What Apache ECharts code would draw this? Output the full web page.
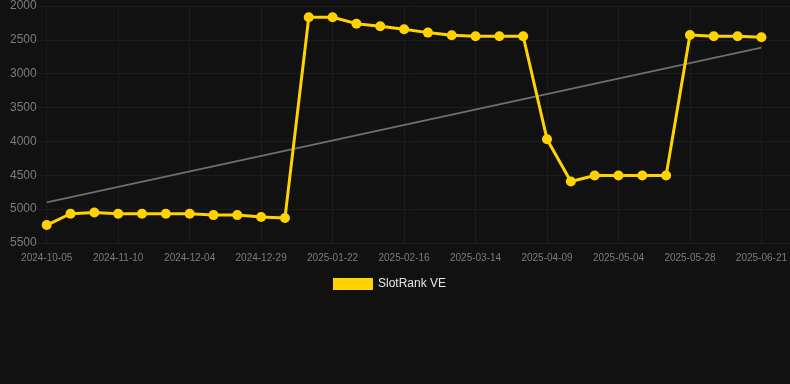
<!DOCTYPE html>
<html>
<head>
<meta charset="utf-8">
<script src="https://cdn.jsdelivr.net/npm/echarts@6/dist/echarts.min.js"></script>
<style>
html, body { margin: 0; padding: 0; background: #111111; }
#ct1 { width: 790px; height: 384px; }
</style>
</head>
<body>
<div id="ct1"></div>
<script>
var dates = ['2024-10-05', '2024-10-17', '2024-10-29', '2024-11-10', '2024-11-18', '2024-11-26',
	'2024-12-04', '2024-12-12', '2024-12-20', '2024-12-29', '2025-01-06', '2025-01-14',
	'2025-01-22', '2025-01-30', '2025-02-07', '2025-02-16', '2025-02-24', '2025-03-05',
	'2025-03-14', '2025-03-22', '2025-03-31', '2025-04-09', '2025-04-17', '2025-04-26',
	'2025-05-04', '2025-05-12', '2025-05-20', '2025-05-28', '2025-06-05', '2025-06-13',
	'2025-06-21'];
var ranks = [5235, 5068, 5050, 5068, 5068, 5068, 5068, 5088, 5088, 5117, 5132,
	2167, 2167, 2261, 2300, 2344, 2393, 2433, 2447, 2447, 2447,
	3967, 4591, 4503, 4503, 4503, 4503,
	2428, 2447, 2447, 2462];
var trendEnds = [4900, 2615];
var yTicks = { min: 2000, max: 5500, step: 500 };

var trend = [];
for (var i = 0; i < dates.length; i++) {
	trend.push(null);
}
trend[0] = trendEnds[0];
trend[dates.length - 1] = trendEnds[1];

var gridColor = '#1c1c1c';
var labelColor = '#7c7c7c';

var option1 = {
	backgroundColor: '#111111',
	animation: false,
	grid: [
		{ left: 46.7, right: 28.3, top: 6, bottom: 141 },
		{ left: 37, right: 0, top: 6, bottom: 141 }
	],
	legend: {
		data: [{ name: 'SlotRank VE', icon: 'rect' }],
		top: 273,
		left: 328,
		itemWidth: 40,
		itemHeight: 12,
		itemGap: 10,
		textStyle: { color: '#e6e6e6', fontSize: 12 }
	},
	xAxis: [{
		type: 'category',
		gridIndex: 0,
		data: dates,
		boundaryGap: false,
		axisLine: { show: false },
		axisTick: { show: false },
		axisLabel: { interval: 2, color: labelColor, fontSize: 10, margin: 10 },
		splitLine: { show: true, interval: 2, lineStyle: { color: gridColor } }
	}, {
		type: 'value',
		gridIndex: 1,
		show: false,
		min: 0,
		max: 1
	}],
	yAxis: [{
		type: 'value',
		gridIndex: 0,
		inverse: true,
		min: yTicks.min,
		max: yTicks.max,
		interval: yTicks.step,
		axisLine: { show: false },
		axisTick: { show: false },
		axisLabel: {
			color: labelColor,
			fontSize: 12,
			margin: 10,
			formatter: function (v) { return String(v); }
		},
		splitLine: { show: false }
	}, {
		type: 'value',
		gridIndex: 1,
		inverse: true,
		min: yTicks.min,
		max: yTicks.max,
		interval: yTicks.step,
		axisLine: { show: false },
		axisTick: { show: false },
		axisLabel: { show: false },
		splitLine: { show: true, lineStyle: { color: gridColor } }
	}],
	series: [{
		name: 'Trend',
		type: 'line',
		xAxisIndex: 0,
		yAxisIndex: 0,
		data: trend,
		connectNulls: true,
		symbol: 'none',
		lineStyle: { color: '#6e6e6e', width: 2 },
		z: 1
	}, {
		name: 'SlotRank VE',
		type: 'line',
		xAxisIndex: 0,
		yAxisIndex: 0,
		data: ranks,
		symbol: 'circle',
		symbolSize: 10,
		itemStyle: { color: '#ffd200' },
		lineStyle: { color: '#ffd200', width: 3 },
		z: 3
	}]
};

var myChart1 = echarts.init(document.getElementById('ct1'));
myChart1.setOption(option1, true);
</script>
</body>
</html>
